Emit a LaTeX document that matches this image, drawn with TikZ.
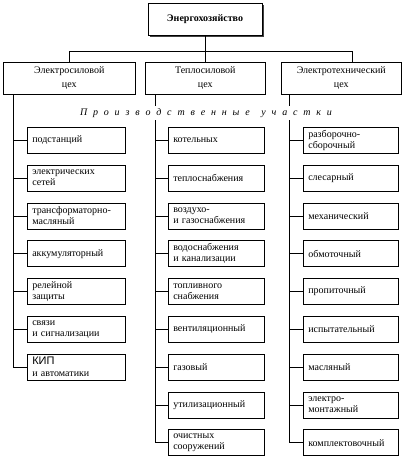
\documentclass[tikz,border=0pt]{standalone}
\usepackage{fontspec}
\setmainfont{Liberation Serif}
\newfontfamily\kipfont{Liberation Sans}
\usetikzlibrary{shadows}
\begin{document}
\begin{tikzpicture}[x=1pt,y=-1pt,
  ln/.style={line width=0.6pt},
  topbox/.style={draw,line width=0.9pt,fill=white,minimum width=114pt,minimum height=32pt,
    font=\fontsize{10}{12}\selectfont\bfseries,
    drop shadow={shadow xshift=2.2pt,shadow yshift=-2.2pt,fill=black!75,opacity=1}},
  shopbox/.style={draw,line width=0.6pt,anchor=north west,minimum height=32pt,align=center,
    inner sep=1pt,font=\fontsize{10}{14}\selectfont},
  leaf/.style={draw,line width=0.6pt,anchor=north west,minimum height=26pt,align=left,
    inner xsep=5pt,inner ysep=1pt,font=\fontsize{10}{11}\selectfont},
  leafL/.style={leaf,text width=88pt},
  leafM/.style={leaf,text width=86pt},
  leafR/.style={leaf,text width=85pt},
]
\useasboundingbox (0,0) rectangle (404,464);

% top
\node[topbox] (top) at (205,19) {Энергохозяйство};

% shops
\node[shopbox,minimum width=132pt] (L) at (3,62) {Электросиловой\\цех};
\node[shopbox,minimum width=120pt] (M) at (145,62) {Теплосиловой\\цех};
\node[shopbox,minimum width=120pt] (R) at (281,62) {Электротехнический\\цех};

\coordinate (busL) at (69,51);
\coordinate (busR) at (352,51);
\coordinate (busM) at (top.south |- busL);
\draw[ln] (busL) -- (busR);
\draw[ln] (top.south) -- (busM);
\draw[ln] (busL) -- (busL |- L.north);
\draw[ln] (busM) -- (busM |- M.north);
\draw[ln] (busR) -- (busR |- R.north);

% leaves, left
\foreach \t [count=\i from 0] in {
  {подстанций},
  {электрических\\сетей},
  {трансформаторно-\\масляный},
  {аккумуляторный},
  {релейной\\защиты},
  {связи\\и сигнализации},
  {{\kipfont\fontsize{11}{12}\selectfont КИП}\\[1pt]и автоматики}}
  \node[leafL] (l\i) at (27,{127+37.8*\i}) {\t};

% leaves, middle
\foreach \t [count=\i from 0] in {
  {котельных},
  {теплоснабжения},
  {воздухо-\\и газоснабжения},
  {водоснабжения\\и канализации},
  {топливного\\снабжения},
  {вентиляционный},
  {газовый},
  {утилизационный},
  {очистных\\сооружений}}
  \node[leafM] (m\i) at (168,{127+37.8*\i}) {\t};

% leaves, right
\foreach \t [count=\i from 0] in {
  {разборочно-\\сборочный},
  {слесарный},
  {механический},
  {обмоточный},
  {пропиточный},
  {испытательный},
  {масляный},
  {электро-\\монтажный},
  {комплектовочный}}
  \node[leafR] (r\i) at (303,{127+37.8*\i}) {\t};

% trunks
\coordinate (tL) at (13,0);
\coordinate (tM) at (155,0);
\coordinate (tR) at (289,0);
\draw[ln] (L.south -| tL) -- (l6.west -| tL) -- (l6.west);
\draw[ln] (M.south -| tM) -- (m8.west -| tM) -- (m8.west);
\draw[ln] (R.south -| tR) -- (r8.west -| tR) -- (r8.west);
\foreach \i in {0,...,5} \draw[ln] (l\i.west -| tL) -- (l\i.west);
\foreach \i in {0,...,7} \draw[ln] (m\i.west -| tM) -- (m\i.west);
\foreach \i in {0,...,7} \draw[ln] (r\i.west -| tR) -- (r\i.west);

% caption over trunks
\node[fill=white,inner xsep=4pt,inner ysep=2pt,font=\fontsize{10}{12}\selectfont\itshape] (cap) at (206,113)
  {\makebox[252pt]{П\hfill р\hfill о\hfill и\hfill з\hfill в\hfill о\hfill д\hfill с\hfill т\hfill в\hfill е\hfill н\hfill н\hfill ы\hfill е\hfill\hfill у\hfill ч\hfill а\hfill с\hfill т\hfill к\hfill и}};
\end{tikzpicture}
\end{document}
